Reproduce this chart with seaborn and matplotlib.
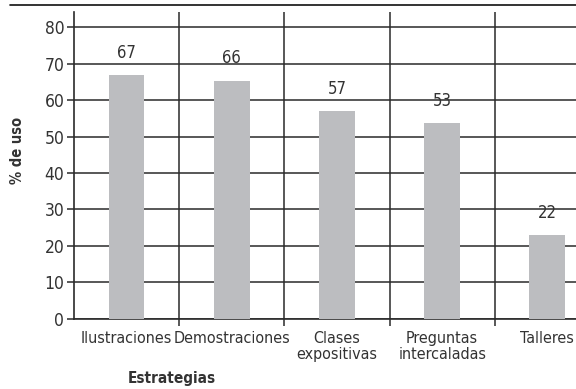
import matplotlib
matplotlib.use("Agg")
import matplotlib.pyplot as plt
import seaborn as sns
import pandas as pd
from matplotlib.ticker import FixedLocator

estrategias = ["Ilustraciones", "Demostraciones", "Clases\nexpositivas",
               "Preguntas\nintercaladas", "Talleres"]
uso = [66.8, 65.3, 57.0, 53.7, 23.0]
etiquetas = ["67", "66", "57", "53", "22"]

df = pd.DataFrame({"Estrategia": estrategias, "Uso": uso})

sns.set_style("white")
plt.rcParams["font.family"] = ["DejaVu Sans"]
plt.rcParams["font.stretch"] = "condensed"
texto = "#333333"
linea = "#2a2a2a"

fig = plt.figure(figsize=(5.76, 3.89), dpi=100)
ax = fig.add_axes([0.1285, 0.18, 0.913, 0.789])

sns.barplot(data=df, x="Estrategia", y="Uso", color="#bcbdc0",
            width=0.34, saturation=1, linewidth=0, ax=ax, zorder=3)

for i, t in enumerate(etiquetas):
    ax.annotate(t, (i, uso[i]), xytext=(0, 16), textcoords="offset points",
                ha="center", va="center", fontsize=12, color=texto,
                fontstretch="condensed")

ax.set_xlim(-0.5, 4.5)
ax.set_ylim(0, 84.1)
ax.set_yticks(range(0, 81, 10))
ax.xaxis.set_minor_locator(FixedLocator([0.5, 1.5, 2.5, 3.5]))

ax.grid(axis="y", which="major", color=linea, lw=1.1, zorder=0)
ax.grid(axis="x", which="minor", color=linea, lw=1.1, zorder=0)
ax.grid(axis="x", which="major", visible=False)

for s in ["top", "right"]:
    ax.spines[s].set_visible(False)
for s in ["left", "bottom"]:
    ax.spines[s].set_color(linea)
    ax.spines[s].set_linewidth(1.2)

ax.tick_params(axis="y", length=5, width=1.1, color=linea, labelsize=12.5,
               labelcolor=texto, pad=2, left=True)
ax.tick_params(axis="x", which="major", length=0, labelsize=11.5,
               labelcolor=texto, pad=9)
ax.tick_params(axis="x", which="minor", length=5, width=1.1, color=linea,
               bottom=True)
for lab in ax.get_xticklabels() + ax.get_yticklabels():
    lab.set_linespacing(1.05)
    lab.set_fontstretch("condensed")

ax.set_xlabel("")
ax.set_ylabel("")
fig.text(0.031, 0.614, "% de uso", rotation=90, ha="center", va="center",
         fontsize=10.5, fontweight="bold", color=texto, fontstretch="condensed")
fig.text(0.299, 0.026, "Estrategias", ha="center", va="center",
         fontsize=11, fontweight="bold", color=texto, fontstretch="condensed")

fig.add_artist(plt.Line2D([0.017, 1.0], [0.987, 0.987], color="#111111",
                          lw=1.2, transform=fig.transFigure))

fig.savefig("out.png", dpi=100)
